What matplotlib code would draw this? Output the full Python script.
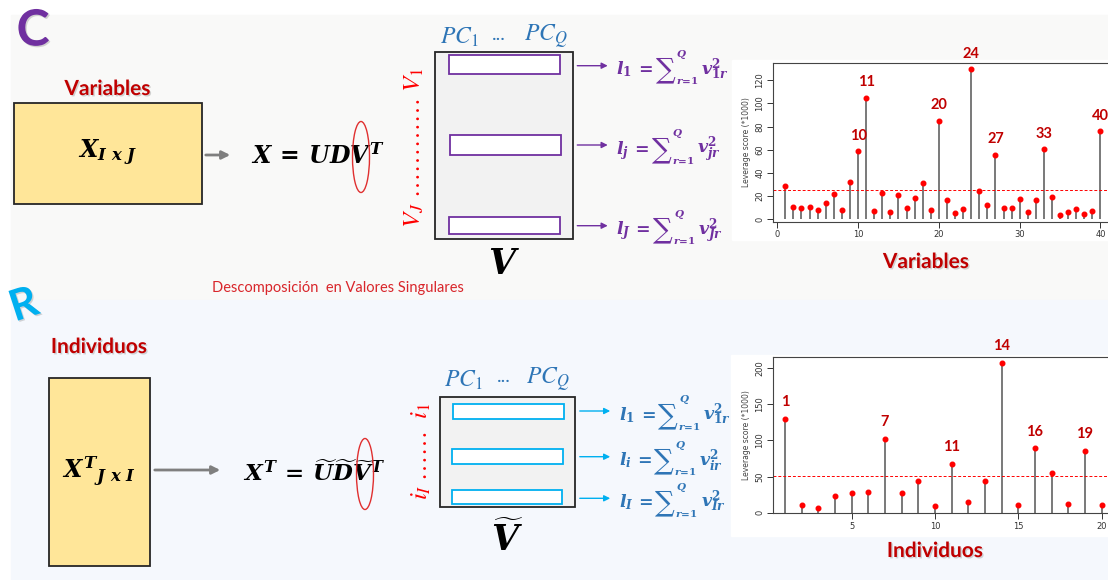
import matplotlib
matplotlib.use("Agg")
import matplotlib.pyplot as plt
import matplotlib.patheffects as pe
from matplotlib.patches import Rectangle, Ellipse

plt.rcParams['font.family'] = ['Lato', 'DejaVu Sans']
plt.rcParams['mathtext.fontset'] = 'custom'
plt.rcParams['mathtext.it'] = 'DejaVu Serif:italic:bold'
plt.rcParams['mathtext.rm'] = 'DejaVu Serif:bold'
plt.rcParams['mathtext.bf'] = 'DejaVu Serif:bold:italic'

# datos: leverage scores (*1000)
var_idx = list(range(1, 41))
var_score = [29, 10.4, 9.8, 10.4, 7.5, 13.6, 21.3, 7.5, 31.7, 58.8,
             105, 6.9, 22.2, 6, 20.5, 9.5, 18.2, 31.4, 8, 85,
             16.4, 5.2, 8.9, 129.5, 24.2, 11.8, 55.7, 9.8, 9.8, 17.6,
             6, 16.7, 60.6, 18.7, 3.5, 6, 8.4, 4.3, 6.6, 76]
var_umbral = 25.3
var_marcados = [10, 11, 20, 24, 27, 33, 40]

ind_idx = list(range(1, 21))
ind_score = [130, 10, 6.5, 23.5, 26.7, 28.6, 102, 27.6, 43.8, 8.8,
             67.7, 14.3, 43.8, 207, 11, 89, 55.3, 12, 85.3, 10.6]
ind_umbral = 50.2
ind_marcados = [1, 7, 11, 14, 16, 19]

rojo_osc = '#c00000'
morado = '#7030a0'
azul = '#2e75b6'
celeste = '#00b0f0'
sombra = [pe.withSimplePatchShadow(offset=(1, -1), shadow_rgbFace='#888888', alpha=0.35)]

W, H = 1108, 580
fig = plt.figure(figsize=(W / 100, H / 100), dpi=100)
renderer = fig.canvas.get_renderer()
bg = fig.add_axes([0, 0, 1, 1])
bg.set_xlim(0, W)
bg.set_ylim(H, 0)
bg.axis('off')

# fondos de los paneles
bg.add_patch(Rectangle((11, 15), W - 11, 285, color='#f9f9f8', zorder=0))
bg.add_patch(Rectangle((11, 300), W - 11, 280, color='#f5f8fd', zorder=0))
bg.add_patch(Rectangle((732, 60), W - 732, 180, color='white', zorder=0.5))
bg.add_patch(Rectangle((731, 355), W - 731, 181, color='white', zorder=0.5))

bg.text(33, 31, 'C', color=morado, fontsize=36, fontweight='bold', ha='center', va='center',
        path_effects=sombra)
bg.text(24, 305, 'R', color=celeste, fontsize=31, fontweight='bold', ha='center', va='center',
        rotation=18, path_effects=sombra)

bg.text(338, 288, 'Descomposición  en Valores Singulares', color='#d9262b', fontsize=10.5,
        ha='center', va='center')


def x_fin(t):
    return t.get_window_extent(renderer).x1


def formula(x0, base, sub, vsub, color):
    t1 = bg.text(x0, base, rf'$l_{{{sub}}}\,{{=}}$', fontsize=12.5, color=color, va='baseline')
    xs = x_fin(t1) + 2
    ts = bg.text(xs, base + 3, '\u2211', fontsize=20, color=color, family='DejaVu Serif',
                 va='baseline')
    xe = x_fin(ts)
    tq = bg.text(xe + 1, base - 20, r'$Q$', fontsize=7.5, color=color, va='center')
    tr = bg.text(xe + 0.5, base + 6, r'$r\!=\!1$', fontsize=7.5, color=color, va='center')
    xv = max(x_fin(tq), x_fin(tr)) + 2
    bg.text(xv, base, rf'$v_{{{vsub}}}^2$', fontsize=12.5, color=color, va='baseline')


def panel(y_tit, titulo, caja, texto_caja, flecha, form, elipse, vert, matriz, filas,
          color_filas, color_form, flechas_y, subs, etiqueta, pc_y):
    bg.text(caja[0] + caja[2] / 2, y_tit, titulo, color=rojo_osc, fontsize=15, fontweight='bold',
            ha='center', va='center', path_effects=sombra)
    bg.add_patch(Rectangle(caja[:2], caja[2], caja[3], facecolor='#ffe699', edgecolor='#262626',
                           lw=1.3, zorder=2))
    bg.text(caja[0] + caja[2] / 2, caja[1] + caja[3] / 2, texto_caja, fontsize=17,
            ha='center', va='center', zorder=3)
    bg.annotate('', xy=(flecha[1], flecha[2]), xytext=(flecha[0], flecha[2]),
                arrowprops=dict(arrowstyle='-|>', color='#7f7f7f', lw=2, mutation_scale=12))
    bg.text(form[0], form[1], form[2], fontsize=form[3], ha='left', va='center')
    bg.add_patch(Ellipse(elipse[:2], 17, 71, fill=False, edgecolor='#e03030', lw=1, zorder=3))
    bg.text(vert[0], vert[1], vert[2], color='red', fontsize=18, rotation=90,
            ha='center', va='center', math_fontfamily='stix')
    mx, my, mw, mh = matriz
    bg.add_patch(Rectangle((mx, my), mw, mh, facecolor='#f2f2f2', edgecolor='#262626', lw=1.3, zorder=2))
    for fx, fy, fw, fh in filas:
        bg.add_patch(Rectangle((fx, fy), fw, fh, facecolor='white', edgecolor=color_filas,
                               lw=1.3, zorder=3))
    bg.text(mx + 5, pc_y, r'$PC_1$', color=azul, fontsize=17, ha='left', va='center',
            math_fontfamily='stix')
    bg.text(mx + 64, pc_y - 3, '...', color=azul, fontsize=14, ha='center', va='center')
    bg.text(mx + mw - 5, pc_y, r'$PC_Q$', color=azul, fontsize=17, ha='right', va='center',
            math_fontfamily='stix')
    bg.text(mx + mw / 2, etiqueta[0], etiqueta[1], fontsize=25, ha='center', va='center')
    for fy, (s1, s2) in zip(flechas_y, subs):
        bg.annotate('', xy=(mx + mw + 38, fy), xytext=(mx + mw + 2, fy),
                    arrowprops=dict(arrowstyle='-|>', color=color_filas, lw=1, mutation_scale=9))
        formula(mx + mw + 44, fy + 9, s1, s2, color_form)


panel(89, 'Variables', (13.5, 102.5, 188, 101), r'$X_{I\ x\ J}$', (203, 233, 155),
      (251, 155, r'$X\,=\,UDV^T$', 17), (361, 157),
      (414, 148, r'$V_J\ \ldots\ldots\ldots\ldots\ V_1$'),
      (435, 51.5, 137.5, 187),
      [(448.5, 55, 111, 19), (450, 134.5, 111, 20), (448.5, 217, 111, 16.5)],
      morado, morado, [65.7, 145, 225.7], [('1', '1r'), ('j', 'jr'), ('J', 'Jr')],
      (264, r'$V$'), 37)

panel(347, 'Individuos', (48.5, 377.5, 101, 188.5), r'$X^{T}{}_{J\ x\ I}$', (152, 223, 470),
      (243, 472, r'$X^T\,=\,\widetilde{U}\widetilde{D}\widetilde{V}^T$', 16.5), (365, 474),
      (421, 451, r'$i_I\ \ldots\ldots\ \ i_1$'),
      (439.5, 397, 135.5, 110),
      [(452.5, 403.5, 111, 15.5), (452, 448.5, 110.5, 15), (452, 490, 110, 13.5)],
      celeste, azul, [411, 456.7, 498.3], [('1', '1r'), ('i', 'ir'), ('I', 'Ir')],
      (538, r'$\widetilde{V}$'), 380)


def stem_plot(pix, xlim, ylim, x, y, umbral, marcados, xticks, yticks, off, titulo, tit_xy):
    l, t, r, b = pix
    ax = fig.add_axes([l / W, 1 - b / H, (r - l) / W, (b - t) / H])
    ax.patch.set_alpha(0)
    ax.vlines(x, 0, y, color='#555555', lw=1.1)
    ax.plot(x, y, 'o', color='red', ms=3.3)
    ax.axhline(umbral, color='red', ls=(0, (3, 2)), lw=0.7)
    ax.set_xlim(*xlim)
    ax.set_ylim(*ylim)
    ax.set_xticks(xticks)
    ax.set_yticks(yticks)
    ax.set_yticklabels([str(v) for v in yticks], rotation=90, va='center')
    ax.tick_params(labelsize=6, colors='#333333', length=4, width=0.7, pad=2)
    for s in ['top', 'left', 'bottom']:
        ax.spines[s].set_color('#444444')
        ax.spines[s].set_linewidth(0.8)
    ax.spines['right'].set_visible(False)
    ax.set_ylabel('Leverage score (*1000)', fontsize=5.5, color='#444444', labelpad=3,
                  family='DejaVu Sans')
    for lbl in ax.get_xticklabels() + ax.get_yticklabels():
        lbl.set_family('DejaVu Sans')
    for m in marcados:
        ax.annotate(str(m), (m, y[x.index(m)]), xytext=(0, off), textcoords='offset points',
                    ha='center', va='center', color=rojo_osc, fontsize=10.5, fontweight='bold',
                    annotation_clip=False)
    bg.text(tit_xy[0], tit_xy[1], titulo, color=rojo_osc, fontsize=15, fontweight='bold',
            ha='center', va='center', path_effects=sombra)


stem_plot((772.7, 62.7, W, 221.7), (-0.56, 40.93), (-2.3, 135.2), var_idx, var_score, var_umbral,
          var_marcados, [0, 10, 20, 30, 40], [0, 20, 40, 60, 80, 100, 120], 11,
          'Variables', (926, 262))
stem_plot((772.7, 357, W, 513.4), (0.26, 20.38), (-1, 215.3), ind_idx, ind_score, ind_umbral,
          ind_marcados, [5, 10, 15, 20], [0, 50, 100, 150, 200], 12,
          'Individuos', (935, 551))

fig.savefig('out.png', dpi=100)
